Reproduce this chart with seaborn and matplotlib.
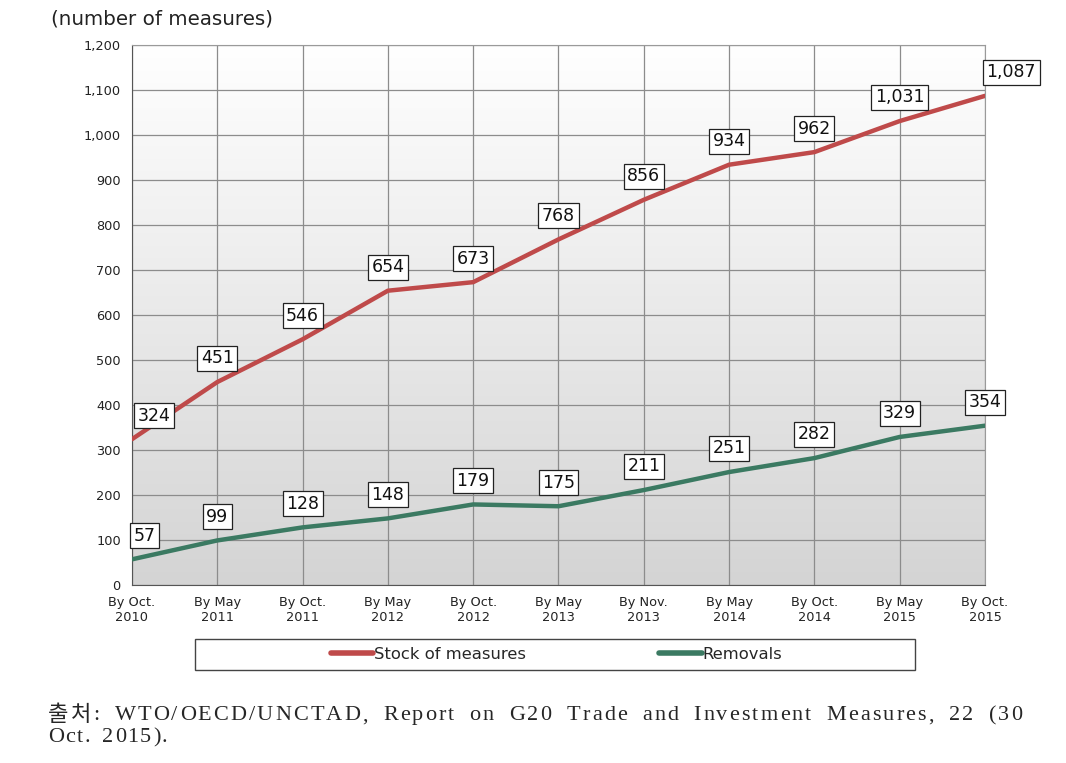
import numpy as np
import pandas as pd
import seaborn as sns
import matplotlib.pyplot as plt
from matplotlib.patches import Rectangle
from matplotlib.colors import LinearSegmentedColormap

# dados
periodos = ['By Oct.\n2010', 'By May\n2011', 'By Oct.\n2011', 'By May\n2012', 'By Oct.\n2012',
            'By May\n2013', 'By Nov.\n2013', 'By May\n2014', 'By Oct.\n2014', 'By May\n2015',
            'By Oct.\n2015']
estoque = [324, 451, 546, 654, 673, 768, 856, 934, 962, 1031, 1087]
remocoes = [57, 99, 128, 148, 179, 175, 211, 251, 282, 329, 354]
series = ['Stock of measures', 'Removals']
cores = ['#BF4A4A', '#3B7A62']
fonte_linha1 = '출처: WTO/OECD/UNCTAD, Report on G20 Trade and Investment Measures, 22 (30'
fonte_linha2 = 'Oct. 2015).'

df = pd.DataFrame({'pos': list(range(len(periodos))) * 2,
                   'valor': estoque + remocoes,
                   'serie': [series[0]] * len(estoque) + [series[1]] * len(remocoes)})

sns.set_style('white')
plt.rcParams['font.family'] = ['DejaVu Sans']

fig = plt.figure(figsize=(10.66, 7.63), dpi=100)
ax = fig.add_axes([0.1238, 0.2333, 0.8002, 0.7077])

# fundo em degrade (branco em cima, cinza embaixo)
grad = np.linspace(0, 1, 256).reshape(-1, 1)
ax.imshow(grad, extent=[0, 1, 0, 1], transform=ax.transAxes, aspect='auto',
          cmap=LinearSegmentedColormap.from_list('g', ['#FFFFFF', '#D4D4D4']),
          zorder=0, origin='upper')

sns.lineplot(data=df, x='pos', y='valor', hue='serie', palette=dict(zip(series, cores)),
             linewidth=3.2, ax=ax, legend=False, zorder=3)

ax.set_xlim(0, len(periodos) - 1)
ax.set_ylim(0, 1200)
ax.set_xticks(range(len(periodos)))
ax.set_xticklabels(periodos, fontsize=9.3, color='#222222', linespacing=1.2)
ax.set_yticks(range(0, 1201, 100))
ax.set_yticklabels([f'{v:,}' for v in range(0, 1201, 100)], fontsize=9.3, color='#222222')
ax.tick_params(axis='both', length=5, width=1, color='#555555', direction='out', pad=3)
ax.grid(True, color='#8C8C8C', linewidth=0.9, zorder=1)
ax.set_axisbelow(True)
ax.set_xlabel('')
ax.set_ylabel('')
for lado in ['top', 'right']:
    ax.spines[lado].set_color('#9A9A9A')
for lado in ['left', 'bottom']:
    ax.spines[lado].set_color('#555555')

# rotulos com caixa
ultimo = len(periodos) - 1
for valores, dx_ini, dx_fim in [(estoque, 16, 19), (remocoes, 9, 0)]:
    for i, v in enumerate(valores):
        dx = dx_ini if i == 0 else (dx_fim if i == ultimo else 0)
        ax.annotate(f'{v:,}', (i, v), xytext=(dx, 17), textcoords='offset points',
                    ha='center', va='center', fontsize=12.5, color='#111111', zorder=5,
                    annotation_clip=False,
                    bbox=dict(boxstyle='square,pad=0.2', fc='white', ec='#222222', lw=0.9))

fig.text(0.048, 0.975, '(number of measures)', fontsize=14.3, color='#222222', va='center')

# legenda: moldura fixa e itens centralizados
fig.add_artist(Rectangle((0.1825, 0.122), 0.676, 0.04, transform=fig.transFigure,
                         fc='white', ec='#444444', lw=1))
handles = [plt.Line2D([], [], color=c, lw=4) for c in cores]
fig.legend(handles, series, loc='center', bbox_to_anchor=(0.522, 0.142), ncol=2,
           frameon=False, fontsize=11.8, handlelength=2.6, handletextpad=0.05,
           columnspacing=8.1)


# texto da fonte justificado (espaco extra entre caracteres, mais nos espacos)
def linha_justificada(texto, x0, x1, y, **kw):
    rend = fig.canvas.get_renderer()
    cheio = fig.text(0, y, texto.replace(' ', '\u00a0'), va='center', **kw)
    larg_total = cheio.get_window_extent(rend).width / fig.bbox.width
    cheio.remove()
    objs = [fig.text(0, y, c if c != ' ' else '\u00a0', va='center', **kw) for c in texto]
    larg = [o.get_window_extent(rend).width / fig.bbox.width for o in objs]
    escala = larg_total / sum(larg)
    pesos = [3.5 if c == ' ' else 1.0 for c in texto[:-1]]
    unidade = (x1 - x0 - larg_total) / sum(pesos)
    x = x0
    for k, (o, w) in enumerate(zip(objs, larg)):
        o.set_x(x)
        x += w * escala + (unidade * pesos[k] if k < len(pesos) else 0)


familia = ['Liberation Serif', 'Noto Sans CJK KR']
linha_justificada(fonte_linha1, 0.045, 0.959, 0.062, fontsize=16, family=familia)
linha_justificada(fonte_linha2, 0.045, 0.045 + 0.112, 0.033, fontsize=16, family=familia)

fig.savefig('out.png', dpi=100)
